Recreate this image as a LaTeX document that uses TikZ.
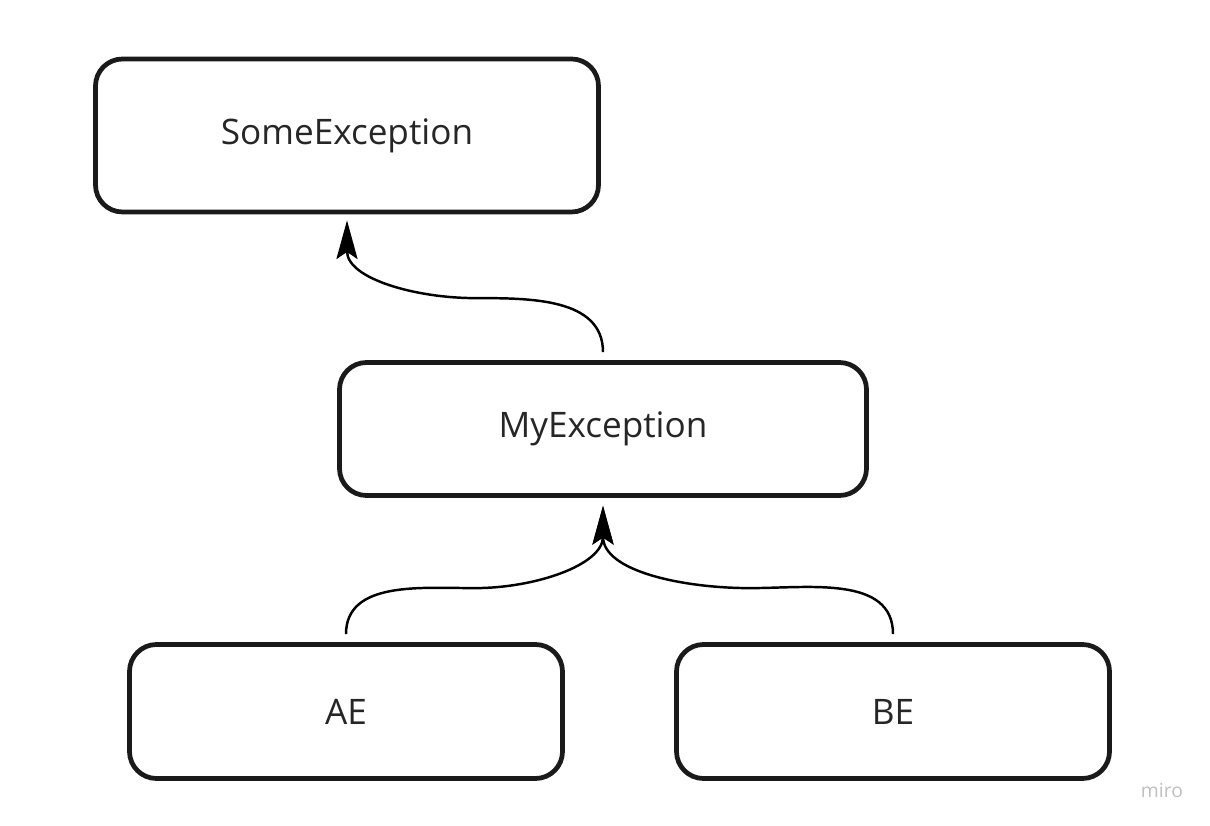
\documentclass[tikz,border=0pt]{standalone}
\usepackage{fontspec}
\setmainfont{Open Sans}
\usetikzlibrary{arrows.meta}
\definecolor{boxline}{HTML}{1A1A1A}
\definecolor{boxtext}{HTML}{262626}
\tikzset{
    exbox/.style={draw=boxline, line width=1.35pt, rounded corners=0.27cm,
        inner sep=0pt, text=boxtext, font=\fontsize{10}{12}\selectfont},
    inherit/.style={draw=black, line width=0.7pt,
        -{Stealth[length=11pt,width=6pt,inset=2pt]}}
}

\begin{document}
\begin{tikzpicture}
    \useasboundingbox (0,0) rectangle (12.10,8.26);

    % Exception classes
    \node[exbox, minimum width=5.03cm, minimum height=1.53cm] (some) at (3.47,6.905) {SomeException};
    \node[exbox, minimum width=5.27cm, minimum height=1.33cm] (my) at (6.03,3.97) {MyException};
    \node[exbox, minimum width=4.33cm, minimum height=1.34cm] (ae) at (3.46,1.145) {AE};
    \node[exbox, minimum width=4.33cm, minimum height=1.34cm] (be) at (8.93,1.145) {BE};

    % Inheritance arrows
    \draw[inherit] ([yshift=0.08cm]my.north) to[out=90,in=0] ++(-1.28,0.54)
        to[out=180,in=-90] ([yshift=-0.06cm]some.south);
    \draw[inherit] ([yshift=0.08cm]ae.north) to[out=90,in=180] ++(1.29,0.46)
        to[out=0,in=-90] ([yshift=-0.08cm]my.south);
    \draw[inherit] ([yshift=0.08cm]be.north) to[out=90,in=0] ++(-1.43,0.46)
        to[out=180,in=-90] ([yshift=-0.08cm]my.south);

    % Watermark
    \node[text=black!25, font=\fontsize{5.5}{6}\selectfont] (miro) at (11.62,0.35) {miro};
\end{tikzpicture}
\end{document}
